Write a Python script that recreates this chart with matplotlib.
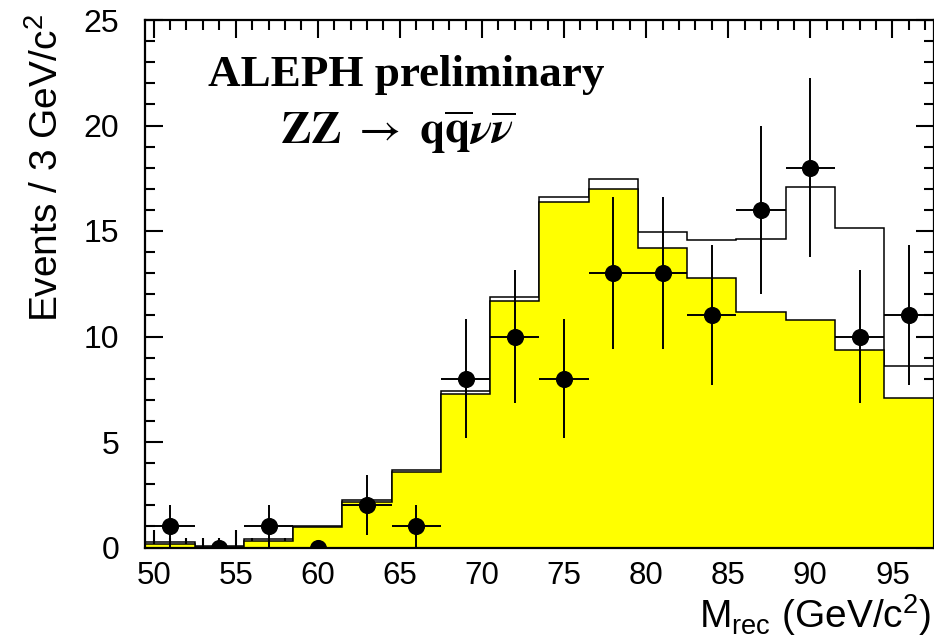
import numpy as np
import matplotlib
matplotlib.use("Agg")
import matplotlib.pyplot as plt
from matplotlib.ticker import MultipleLocator

plt.rcParams['font.family'] = ['Liberation Sans', 'DejaVu Sans']
plt.rcParams['mathtext.fontset'] = 'custom'
plt.rcParams['mathtext.rm'] = 'Liberation Sans'
plt.rcParams['mathtext.it'] = 'Liberation Sans:italic'
plt.rcParams['mathtext.bf'] = 'Liberation Sans:bold'

# ---- data ----
bin_edges = [49.5, 52.5, 55.5, 58.5, 61.5, 64.5, 67.5, 70.5, 73.5, 76.5,
             79.5, 82.5, 85.5, 88.5, 91.5, 94.5, 97.5]
bin_centers = [51, 54, 57, 60, 63, 66, 69, 72, 75, 78, 81, 84, 87, 90, 93, 96]
data_counts = [1, 0, 1, 0, 2, 1, 8, 10, 8, 13, 13, 11, 16, 18, 10, 11]
background = [0.18, 0.03, 0.33, 0.95, 2.15, 3.60, 7.29, 11.69, 16.39, 16.99,
              14.18, 12.78, 11.17, 10.76, 9.35, 7.10]
total_mc = [0.25, 0.07, 0.40, 1.03, 2.23, 3.66, 7.40, 11.85, 16.63, 17.47,
            14.97, 14.57, 14.62, 17.07, 15.12, 8.61]
x_ticks = [50, 55, 60, 65, 70, 75, 80, 85, 90, 95]
y_ticks = [0, 5, 10, 15, 20, 25]

W, H = 934, 642
fig = plt.figure(figsize=(W / 100, H / 100), dpi=100)
ax = fig.add_axes([145.4 / W, 1 - 547.5 / H, (933.5 - 145.4) / W, (547.5 - 20) / H])

# total (signal + background) outline
ax.stairs(total_mc, bin_edges, fill=True, facecolor='white', edgecolor='none', zorder=1)
ax.stairs(total_mc, bin_edges, fill=False, color='black', linewidth=1.1, zorder=2)
# background filled yellow
ax.stairs(background, bin_edges, fill=True, facecolor='#ffff00', edgecolor='none', zorder=3)
ax.stairs(background, bin_edges, fill=False, color='black', linewidth=1.1, zorder=4)

# data points
counts = np.array(data_counts, dtype=float)
yerr = np.sqrt(counts)
xerr = np.diff(bin_edges) / 2
ax.errorbar(bin_centers, counts, yerr=yerr, xerr=xerr, fmt='o', color='black',
            markersize=11.3, elinewidth=1.4, capsize=0, zorder=5)

ax.set_xlim(bin_edges[0], bin_edges[-1])
ax.set_ylim(0, 25)
ax.set_xticks(x_ticks)
ax.set_yticks(y_ticks)
ax.xaxis.set_minor_locator(MultipleLocator(1))
ax.yaxis.set_minor_locator(MultipleLocator(1))
ax.tick_params(which='both', direction='in', top=True, right=True, width=1.5)
ax.tick_params(which='major', length=13)
ax.tick_params(which='minor', length=7)
ax.tick_params(axis='y', which='major', labelsize=23, pad=19)
ax.tick_params(axis='x', which='major', labelsize=22.5, pad=10)
for s in ax.spines.values():
    s.set_linewidth(1.6)
    s.set_zorder(10)

fig.text(47 / W, 1 - 14 / H, r'Events / 3 GeV/c$^2$', rotation=90, ha='center',
         va='top', fontsize=28)
fig.text(931 / W, 14 / H, r'M$_{\rm rec}$ (GeV/c$^2$)', ha='right', va='baseline',
         fontsize=28)

ax.text(406 / W, 1 - 75 / H, 'ALEPH preliminary', transform=fig.transFigure,
        ha='center', va='center', fontsize=32.5, fontweight='bold',
        family='Liberation Serif')
ax.text(398 / W, 1 - 132 / H,
        r'$\mathbf{ZZ}\ \rightarrow\ \mathbf{q}\overline{\mathbf{q}}\boldsymbol{\nu}\overline{\boldsymbol{\nu}}$',
        transform=fig.transFigure, ha='center', va='center', fontsize=33,
        math_fontfamily='stix')

fig.savefig('out.png', dpi=100)
